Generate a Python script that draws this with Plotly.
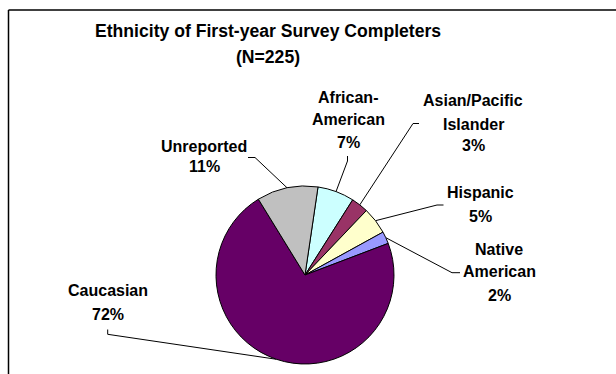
import numpy as np
import plotly.graph_objects as go

# Survey completers by ethnicity (counts, N=225)
categories = ["African-American", "Asian/Pacific Islander", "Hispanic",
              "Native American", "Caucasian", "Unreported"]
counts = [15, 7, 11, 5, 162, 25]
colors = ["#CCFFFF", "#993366", "#FFFFCC", "#9999FF", "#660066", "#C0C0C0"]

# label text lines (name part), percentage appended from the data
label_lines = [["African-", "American"], ["Asian/Pacific", "Islander"], ["Hispanic"],
               ["Native", "American"], ["Caucasian"], ["Unreported"]]

title_lines = ["Ethnicity of First-year Survey Completers", "(N=225)"]

W, H = 616, 374
CX, CY, R = 305, 275, 89          # pie centre / radius in pixels
ROTATION = 8.4                    # start angle of first slice, deg clockwise from 12 o'clock

# label placement: centre x, y of each text line, leader start and elbow
label_x = [348, 473, 480, 499, 108, 204]
label_y = [[97.5, 119, 142.5], [100.8, 124, 145.8], [192.5, 216.5],
           [249, 271.5, 295], [290.8, 314], [146.3, 166.6]]
leader_start = [(347.5, 156), (419, 123.5), (443.5, 205), (460, 272.7), (107.7, 329.5), (248, 157.5)]
leader_elbow = [(347.5, 161), (413, 123.5), (437, 205), (452, 272.7), (107.7, 334.3), (255, 157.5)]

vals = np.array(counts, dtype=float)
frac = vals / vals.sum()
pct = [f"{int(round(f * 100))}%" for f in frac]
start = ROTATION + 360 * np.concatenate([[0], np.cumsum(frac)[:-1]])
mid = np.radians(start + 180 * frac)
rim_x = CX + R * np.sin(mid)
rim_y = CY - R * np.cos(mid)

fig = go.Figure()

fig.add_trace(go.Pie(
    labels=categories, values=counts, sort=False, direction="clockwise",
    rotation=ROTATION, textinfo="none", hoverinfo="label+percent",
    marker=dict(colors=colors, line=dict(color="black", width=1)),
    domain=dict(x=[(CX - R) / W, (CX + R) / W], y=[(H - CY - R) / H, (H - CY + R) / H]),
    showlegend=False,
))

# leader lines from labels to slice rims
for i in range(len(categories)):
    xs = [leader_start[i][0], leader_elbow[i][0], rim_x[i]]
    ys = [leader_start[i][1], leader_elbow[i][1], rim_y[i]]
    fig.add_trace(go.Scatter(x=xs, y=ys, mode="lines", line=dict(color="black", width=1),
                             hoverinfo="skip", showlegend=False))

lab_font = dict(family="Liberation Sans, Arial, sans-serif", size=16, color="black", weight="bold")
annotations = []
for i in range(len(categories)):
    lines = label_lines[i] + [pct[i]]
    for txt, y in zip(lines, label_y[i]):
        annotations.append(dict(x=label_x[i], y=y, xref="x", yref="y", text=txt,
                                showarrow=False, xanchor="center", yanchor="middle",
                                font=lab_font))

tit_font = dict(family="Liberation Sans, Arial, sans-serif", size=17.6, color="black", weight="bold")
for txt, y in zip(title_lines, [31.3, 56.8]):
    annotations.append(dict(x=268, y=y, xref="x", yref="y", text=txt, showarrow=False,
                            xanchor="center", yanchor="middle", font=tit_font))

fig.update_layout(
    width=W, height=H, margin=dict(l=0, r=0, t=0, b=0),
    paper_bgcolor="white", plot_bgcolor="rgba(0,0,0,0)",
    xaxis=dict(range=[0, W], visible=False, fixedrange=True, domain=[0, 1]),
    yaxis=dict(range=[H, 0], visible=False, fixedrange=True, domain=[0, 1]),
    annotations=annotations,
    shapes=[
        dict(type="line", xref="x", yref="y", x0=8.5, y0=10, x1=W + 5, y1=10,
             line=dict(color="black", width=1.5)),
        dict(type="line", xref="x", yref="y", x0=8.5, y0=10, x1=8.5, y1=H + 5,
             line=dict(color="black", width=1.5)),
    ],
)

fig.write_html("out.html")
